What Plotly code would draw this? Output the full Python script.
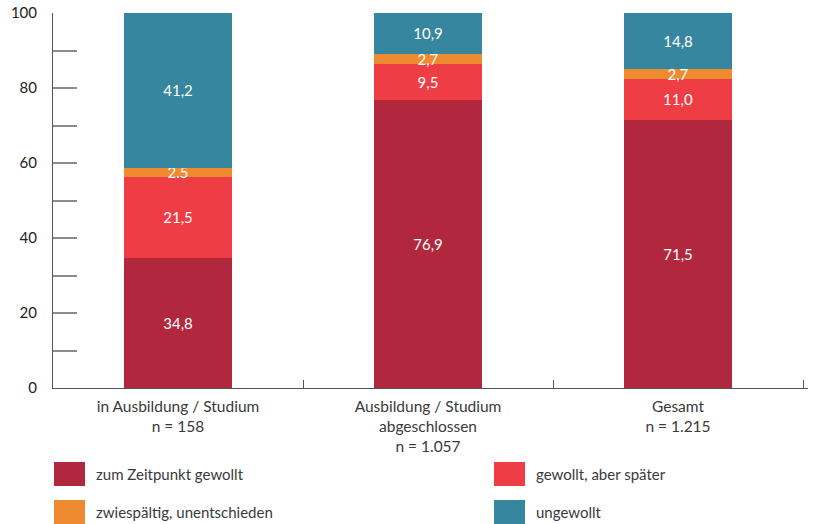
import plotly.graph_objects as go

# Categories (x axis) and stacked shares in percent
categories = [
    "in Ausbildung / Studium<br>n = 158",
    "Ausbildung / Studium<br>abgeschlossen<br>n = 1.057",
    "Gesamt<br>n = 1.215",
]
series_names = [
    "zum Zeitpunkt gewollt",
    "gewollt, aber später",
    "zwiespältig, unentschieden",
    "ungewollt",
]
zeitpunkt_gewollt = [34.8, 76.9, 71.5]
gewollt_spaeter = [21.5, 9.5, 11.0]
zwiespaeltig = [2.5, 2.7, 2.7]
ungewollt = [41.2, 10.9, 14.8]
zwiespaeltig_text = ["2.5", "2,7", "2,7"]

y_tick_values = [0, 10, 20, 30, 40, 50, 60, 70, 80, 90, 100]
y_tick_labels = ["0", "", "20", "", "40", "", "60", "", "80", "", "100"]

colors = ["#B1273D", "#EF3D45", "#EE8B31", "#37869F"]
FONT = "Lato"


def de(v):
    return f"{v:.1f}".replace(".", ",")


series_values = [zeitpunkt_gewollt, gewollt_spaeter, zwiespaeltig, ungewollt]
series_text = [
    [de(v) for v in zeitpunkt_gewollt],
    [de(v) for v in gewollt_spaeter],
    zwiespaeltig_text,
    [de(v) for v in ungewollt],
]

fig = go.Figure()
for name, vals, txt, col in zip(series_names, series_values, series_text, colors):
    fig.add_trace(go.Bar(
        x=categories, y=vals, name=name, text=txt,
        marker=dict(color=col, line=dict(width=0)),
        width=0.432,
        textposition="inside", insidetextanchor="middle", textangle=0,
        constraintext="none",
        textfont=dict(family=FONT, size=15, color="white"),
        showlegend=False,
    ))

# Page geometry (pixels) used to place the legend in paper coordinates
W, H = 819, 524
ML, MR, MT, MB = 53, 11, 13, 136
PW, PH = W - ML - MR, H - MT - MB


def px_x(x):
    return (x - ML) / PW


def px_y(y):
    return (H - MB - y) / PH


shapes = []
annotations = []
legend_slots = [(54, 474), (494, 474), (54, 512), (494, 512)]
for (lx, ly), name, col in zip(legend_slots, series_names, colors):
    shapes.append(dict(
        type="rect", xref="paper", yref="paper",
        x0=px_x(lx), x1=px_x(lx + 31), y0=px_y(ly + 12), y1=px_y(ly - 12),
        fillcolor=col, line=dict(width=0),
    ))
    annotations.append(dict(
        xref="paper", yref="paper", x=px_x(lx + 40), y=px_y(ly),
        xanchor="left", yanchor="middle", showarrow=False,
        text=name, font=dict(family=FONT, size=15, color="#3a3a3a"),
    ))

fig.update_layout(
    barmode="stack",
    width=W, height=H,
    margin=dict(l=ML, r=MR, t=MT, b=MB, autoexpand=False),
    paper_bgcolor="white", plot_bgcolor="white",
    uniformtext=dict(mode="show", minsize=15),
    shapes=shapes, annotations=annotations,
    font=dict(family=FONT, size=15, color="#3a3a3a"),
)
fig.update_xaxes(
    type="category", range=[-0.5, 2.52], automargin=False,
    showline=True, linecolor="#555555", linewidth=1,
    ticks="inside", tickson="boundaries", ticklen=8, tickcolor="#555555", tickwidth=1,
    ticklabelstandoff=4,
    showgrid=False, zeroline=False,
    tickfont=dict(family=FONT, size=15.5, color="#3a3a3a"),
)
fig.update_yaxes(
    range=[0, 100], automargin=False,
    tickmode="array", tickvals=y_tick_values, ticktext=y_tick_labels,
    showline=True, linecolor="#555555", linewidth=1,
    ticks="inside", ticklen=24, tickcolor="#8c8c8c", tickwidth=1.5,
    ticklabelstandoff=12,
    showgrid=False, zeroline=False,
    tickfont=dict(family=FONT, size=15, color="#222222"),
)

fig.write_html("out.html")
